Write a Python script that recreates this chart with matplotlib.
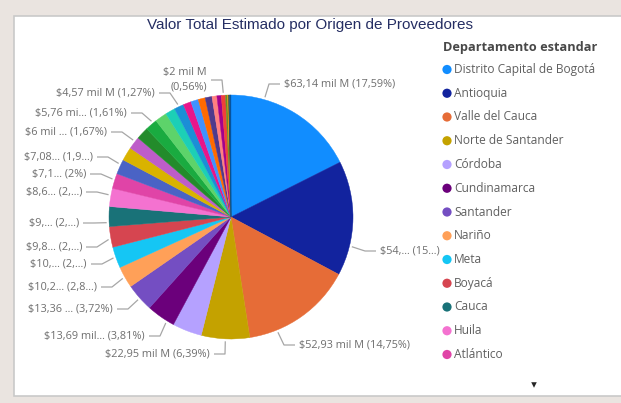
import matplotlib
matplotlib.use("Agg")
import matplotlib.pyplot as plt
from matplotlib.patches import Rectangle
import numpy as np

# ---------------- data ----------------
departments = ["Distrito Capital de Bogotá", "Antioquia", "Valle del Cauca", "Norte de Santander",
               "Córdoba", "Cundinamarca", "Santander", "Nariño", "Meta", "Boyacá", "Cauca",
               "Huila", "Atlántico", "Bolívar", "Tolima", "Caldas", "Risaralda", "Magdalena",
               "Cesar", "Quindío", "Sucre", "Casanare", "La Guajira", "Caquetá", "Chocó",
               "Putumayo", "Arauca", "Amazonas", "San Andrés", "Guaviare", "Vichada", "Vaupés",
               "Guainía", "Sin definir"]
values_milM = [63.14, 54.56, 52.93, 22.95, 14.00, 13.69, 13.36, 10.23, 10.05, 9.83, 9.40,
               8.65, 7.18, 7.08, 6.46, 6.00, 5.89, 5.76, 5.67, 4.67, 4.57, 3.77, 3.59, 3.34,
               3.23, 2.33, 2.08, 2.00, 0.90, 0.54, 0.43, 0.29, 0.22, 0.18]
colors = ["#118DFF", "#12239E", "#E66C37", "#C4A200", "#B5A1FF", "#6B007B", "#744EC2",
          "#FFA058", "#15C6F4", "#D64550", "#197278", "#F472D0", "#E044A7", "#4A63C5",
          "#D9B300", "#BE5DC9", "#238B2B", "#1AAB40", "#5DD36A", "#1CCFB6", "#1B8FD6",
          "#E8158A", "#4092FF", "#FF6A00", "#4F3A8C", "#FF8080", "#A3008C", "#F0413A",
          "#6B8E23", "#E6A000", "#0E2A66", "#197278", "#1F1F1F", "#0060C0"]
# data labels as shown (Power BI truncates them)
label_idx = [0, 1, 2, 3, 5, 6, 7, 8, 9, 10, 11, 12, 13, 15, 17, 20, 27]
label_txt = ["$63,14 mil M (17,59%)", "$54,... (15...)", "$52,93 mil M (14,75%)",
             "$22,95 mil M (6,39%)", "$13,69 mil... (3,81%)", "$13,36 ... (3,72%)",
             "$10,2... (2,8...)", "$10,... (2,...)", "$9,8... (2,...)", "$9,... (2,...)",
             "$8,6... (2,...)", "$7,1... (2%)", "$7,08... (1,9...)", "$6 mil ... (1,67%)",
             "$5,76 mi... (1,61%)", "$4,57 mil M (1,27%)", "$2 mil M\n(0,56%)"]
legend_count = 13
title = "Valor Total Estimado por Origen de Proveedores"
legend_title = "Departamento estandar"

# ---------------- layout (pixels, y from top) ----------------
W, H = 621, 403
CX, CY, R = 231, 217, 122
# (fraction along slice where leader starts, text x, text y, side)
label_layout = [(0.25, 284, 84, "R"), (0.74, 380, 251, "R"), (0.75, 299, 345, "R"),
                (0.5, 210, 354, "L"), (0.25, 145, 336, "L"), (0.48, 113, 309, "L"),
                (0.5, 97, 287, "L"), (0.52, 87, 264, "L"), (0.4, 82, 247, "L"),
                (0.2, 79, 223, "L"), (0.62, 82, 192, "L"), (0.58, 86, 174, "L"),
                (0.66, 93, 157, "L"), (0.63, 107, 132, "L"), (0.69, 127, 113, "L"),
                (0.49, 155, 93, "L"), (0.5, 207, 80, "L")]

def Y(py):
    return H - py

fig = plt.figure(figsize=(W / 100, H / 100), dpi=100, facecolor="#EAE4E0")
ax = fig.add_axes([0, 0, 1, 1])

ax.add_patch(Rectangle((14, Y(396)), 620, 380, facecolor="white", edgecolor="#C9C9C9",
                       linewidth=1.2, zorder=0))

wedges, _ = ax.pie(values_milM, colors=colors, startangle=90, counterclock=False,
                   center=(CX, Y(CY)), radius=R, wedgeprops=dict(linewidth=0.3, edgecolor="none"))
for w, c in zip(wedges, colors):
    w.set_edgecolor(c)

ax.set_xlim(0, W)
ax.set_ylim(0, H)
ax.set_aspect("equal")
ax.axis("off")

lab_font = "Open Sans"
lab_color = "#6E6E6E"
line_color = "#A6A6A6"
for idx, txt, (frac, tx, ty, side) in zip(label_idx, label_txt, label_layout):
    w = wedges[idx]
    ang = np.deg2rad(w.theta2 - frac * (w.theta2 - w.theta1))
    r0 = R * 1.02
    p0 = (CX + r0 * np.cos(ang), Y(CY) + r0 * np.sin(ang))
    if side == "R":
        p2 = (tx - 4, Y(ty))
        p1 = (tx - 15, Y(ty))
        ha = "left"
    else:
        p2 = (tx + 4, Y(ty))
        p1 = (tx + 15, Y(ty))
        ha = "right"
    ax.plot([p0[0], p1[0], p2[0]], [p0[1], p1[1], p2[1]], color=line_color, lw=0.9,
            solid_capstyle="butt", zorder=3)
    ax.text(tx, Y(ty), txt, ha=ha, va="center", fontsize=7.8, family=lab_font,
            color=lab_color, multialignment="right", linespacing=1.45)

# title
ax.text(310, Y(25), title, ha="center", va="center", fontsize=11, family="Liberation Sans",
        color="#252E63")

# legend
ax.text(443, Y(48), legend_title, ha="left", va="center", fontsize=9.2, family=lab_font,
        fontweight="bold", color="#484848")
for i in range(legend_count):
    yy = Y(69.5 + i * 23.75)
    ax.scatter([447], [yy], s=44, color=colors[i], edgecolors="none", zorder=4)
    ax.text(454, yy, departments[i], ha="left", va="center", fontsize=8.6, family=lab_font,
            color="#606060")
ax.scatter([534], [Y(385)], marker="v", s=16, color="#252525", edgecolors="none")

fig.savefig("out.png", dpi=100, facecolor=fig.get_facecolor())
